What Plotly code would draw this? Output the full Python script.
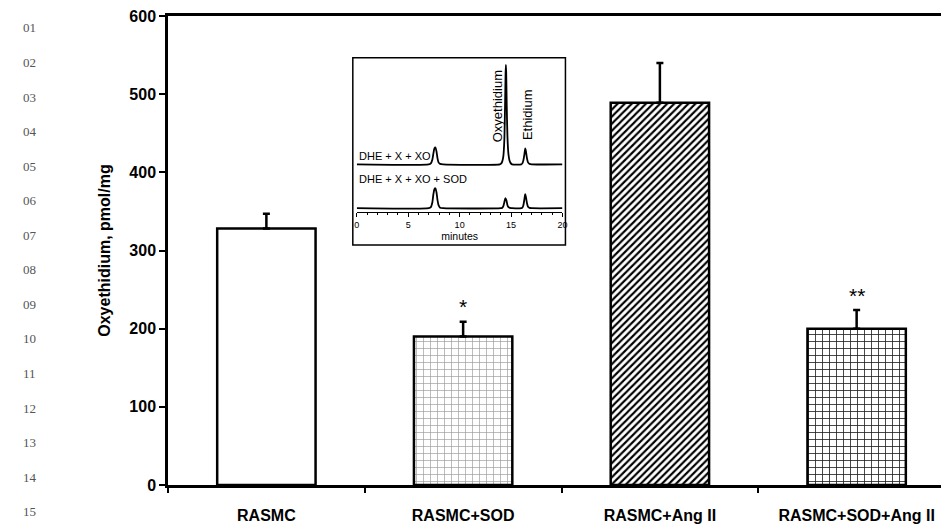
import plotly.graph_objects as go

# ---------------- data ----------------
categories = ["RASMC", "RASMC+SOD", "RASMC+Ang II", "RASMC+SOD+Ang II"]
oxyethidium = [328, 190, 489, 200]
sem = [19, 19, 51, 24]
sig_marks = ["", "*", "", "**"]
sig_y = [None, 229, None, 242]

y_ticks = [0, 100, 200, 300, 400, 500, 600]
line_numbers = ["01", "02", "03", "04", "05", "06", "07", "08", "09", "10",
                "11", "12", "13", "14", "15"]

# inset chromatograms (minutes, detector signal)
t_top = [0, 7.0, 7.2, 7.35, 7.45, 7.55, 7.65, 7.75, 7.85, 7.95, 8.1, 8.4,
         13.9, 14.05, 14.15, 14.25, 14.35, 14.42, 14.47, 14.5, 14.53, 14.58, 14.65, 14.75, 14.85, 14.95, 15.1,
         16.0, 16.1, 16.2, 16.3, 16.38, 16.45, 16.55, 16.65, 16.8, 17.0, 20]
s_top = [0, 0, 1, 5, 11, 16, 17, 13, 6, 2, 0.5, 0,
         0, 1, 3, 8, 25, 60, 92, 100, 92, 60, 28, 10, 4, 1.5, 0,
         0, 1, 4, 10, 16, 13, 6, 2, 0.5, 0, 0]
t_bot = [0, 7.0, 7.2, 7.35, 7.45, 7.55, 7.65, 7.75, 7.85, 7.95, 8.1, 8.4,
         14.0, 14.15, 14.25, 14.35, 14.45, 14.55, 14.65, 14.75, 14.9, 15.1,
         16.0, 16.1, 16.2, 16.3, 16.38, 16.45, 16.55, 16.65, 16.8, 17.0, 20]
s_bot = [0, 0, 1, 6, 14, 19, 20, 16, 8, 3, 0.5, 0,
         0, 0.5, 2, 6, 10, 8, 3, 1, 0.3, 0,
         0, 0.5, 3, 9, 14, 11, 5, 1.5, 0.3, 0, 0]
top_offset = 48
bot_offset = 4

# ---------------- figure ----------------
OFF = 8  # page body margin
W, H = 949 - OFF, 527 - OFF
ML, MR, MT, MB = 168 - OFF, 0, 14 - OFF, 527 - 485
PW, PH = W - ML - MR, H - MT - MB

def px_x(px):
    return (px - OFF - ML) / PW

def px_y(py):
    return (H - MB - (py - OFF)) / PH

FONT = "Liberation Sans, Arial, sans-serif"

patterns = [
    dict(shape="", fillmode="replace"),
    dict(shape="+", fgcolor="#9a9a9a", bgcolor="white", size=7, solidity=0.18, fillmode="replace"),
    dict(shape="/", fgcolor="black", bgcolor="white", size=5, solidity=0.42, fillmode="replace"),
    dict(shape="+", fgcolor="#202020", bgcolor="white", size=7, solidity=0.22, fillmode="replace"),
]

fig = go.Figure()
for i, c in enumerate(categories):
    fig.add_trace(go.Bar(
        x=[c], y=[oxyethidium[i]], width=0.5,
        marker=dict(color="white", line=dict(color="black", width=2.5), pattern=patterns[i]),
        error_y=dict(type="data", symmetric=False, array=[sem[i]], arrayminus=[0],
                     color="black", thickness=2.5, width=3.5),
        showlegend=False, xaxis="x", yaxis="y",
    ))

# inset chromatogram traces
fig.add_trace(go.Scatter(x=t_top, y=[v + top_offset for v in s_top], mode="lines",
                         line=dict(color="black", width=1.8, shape="spline", smoothing=0.6),
                         xaxis="x2", yaxis="y2", showlegend=False))
fig.add_trace(go.Scatter(x=t_bot, y=[v + bot_offset for v in s_bot], mode="lines",
                         line=dict(color="black", width=1.8, shape="spline", smoothing=0.6),
                         xaxis="x2", yaxis="y2", showlegend=False))

annotations = []
for i, m in enumerate(sig_marks):
    if m:
        annotations.append(dict(x=categories[i], y=sig_y[i], xref="x", yref="y", text=m,
                                showarrow=False, font=dict(family=FONT, size=21, color="black"),
                                yanchor="middle"))

# line numbers
for i, n in enumerate(line_numbers):
    annotations.append(dict(x=px_x(20), y=px_y(26 + 34.7 * i), xref="paper", yref="paper",
                            text=n, showarrow=False, xanchor="left", yanchor="middle",
                            font=dict(family="Liberation Serif, Times New Roman, serif", size=13, color="#555")))

# inset labels
annotations += [
    dict(x=0, y=56, xref="x2", yref="y2", text="DHE + X + XO", showarrow=False,
         xanchor="left", yanchor="middle", font=dict(family=FONT, size=11, color="black")),
    dict(x=0, y=33, xref="x2", yref="y2", text="DHE + X + XO + SOD", showarrow=False,
         xanchor="left", yanchor="middle", font=dict(family=FONT, size=11, color="black")),
    dict(x=13.7, y=106, xref="x2", yref="y2", text="Oxyethidium", showarrow=False, textangle=-90,
         xanchor="center", yanchor="middle", font=dict(family=FONT, size=13, color="black")),
    dict(x=16.6, y=98, xref="x2", yref="y2", text="Ethidium", showarrow=False, textangle=-90,
         xanchor="center", yanchor="middle", font=dict(family=FONT, size=13, color="black")),
]

shapes = [dict(type="rect", xref="paper", yref="paper",
               x0=px_x(354), x1=px_x(568), y0=px_y(244), y1=px_y(56),
               fillcolor="white", line=dict(color="black", width=1.5), layer="below")]

fig.update_layout(
    width=W, height=H,
    margin=dict(l=ML, r=MR, t=MT, b=MB, pad=0),
    paper_bgcolor="white", plot_bgcolor="white",
    bargap=0.5,
    font=dict(family=FONT, color="black"),
    annotations=annotations,
    shapes=shapes,
    xaxis=dict(
        type="category", categoryorder="array", categoryarray=categories,
        range=[-0.5, 3.444], showline=True, linecolor="black", linewidth=2.5, mirror=True,
        ticks="outside", tickson="boundaries", ticklen=5, tickwidth=1.5, tickcolor="black",
        showgrid=False, zeroline=False, ticklabelstandoff=14,
        tickfont=dict(family=FONT, size=16, weight="bold", color="black"),
    ),
    yaxis=dict(
        range=[0, 600], tickvals=y_ticks, showline=True, linecolor="black", linewidth=2.5,
        ticks="outside", ticklen=6, tickwidth=1.5, tickcolor="black",
        showgrid=False, zeroline=False, ticklabelstandoff=0, ticklabeloverflow="allow",
        tickfont=dict(family=FONT, size=16, weight="bold", color="black"),
        title=dict(text="Oxyethidium, pmol/mg", standoff=15,
                   font=dict(family=FONT, size=16, weight="bold", color="black")),
    ),
    xaxis2=dict(
        domain=[px_x(358), px_x(565)], anchor="y2", range=[0, 20],
        showline=True, linecolor="black", linewidth=1.3,
        ticks="outside", tickvals=[0, 5, 10, 15, 20], ticklen=4, tickwidth=1, tickcolor="black",
        minor=dict(dtick=1, ticks="outside", ticklen=2, tickwidth=1, tickcolor="black"),
        showgrid=False, zeroline=False,
        tickfont=dict(family=FONT, size=9, color="black"),
        title=dict(text="minutes", standoff=2, font=dict(family=FONT, size=10.5, color="black")),
    ),
    yaxis2=dict(
        domain=[px_y(211), px_y(60)], anchor="x2", range=[0, 151],
        visible=False, showgrid=False, zeroline=False,
    ),
)

fig.write_html("out.html")
